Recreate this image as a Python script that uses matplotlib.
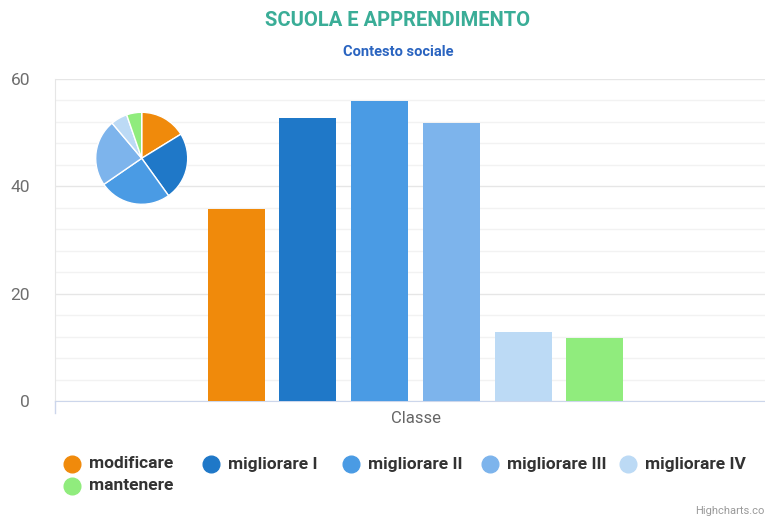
"""Scuola e apprendimento - contesto sociale (column chart with inset pie)."""

import matplotlib
matplotlib.use("Agg")
import matplotlib.pyplot as plt
from matplotlib.lines import Line2D

# Data
categories = ["Classe"]
series_names = ["modificare", "migliorare I", "migliorare II",
                "migliorare III", "migliorare IV", "mantenere"]
series_values = [35.8, 52.7, 55.9, 51.8, 12.9, 11.7]
series_colors = ["#f08a0b", "#1f78c8", "#4a9be4", "#7db4ec", "#bcdaf5", "#90ec7d"]
y_ticks = [0, 20, 40, 60]

plt.rcParams["font.family"] = ["Roboto", "DejaVu Sans"]

W, H = 765, 518
fig = plt.figure(figsize=(W / 100, H / 100), dpi=100)


def px_axes(left, top, right, bottom):
    """Add axes from pixel coordinates (origin top-left)."""
    return fig.add_axes([left / W, 1 - bottom / H, (right - left) / W, (bottom - top) / H])


# Main column chart
ax = px_axes(55, 79, 765, 401)
n = len(series_values)
bar_w = 0.079
step = 0.0995
offsets = [(i - (n - 1) / 2) * step for i in range(n)]
for off, val, col in zip(offsets, series_values, series_colors):
    ax.bar(off, val, width=bar_w, color=col, zorder=3)

ax.set_xlim(-0.5, 0.4847)
ax.set_ylim(0, 60)
ax.set_yticks(y_ticks)
ax.set_yticks([v for v in range(0, 61, 4) if v % 20], minor=True)
ax.grid(axis="y", which="major", color="#e6e6e6", linewidth=1, zorder=0)
ax.grid(axis="y", which="minor", color="#f2f2f2", linewidth=1, zorder=0)
ax.tick_params(axis="y", which="both", length=0, labelsize=12.5, labelcolor="#6e6e6e", pad=18)
ax.tick_params(axis="x", length=0)
ax.set_xticks([0])
ax.set_xticklabels(categories, fontsize=12, color="#666666")
ax.tick_params(axis="x", pad=7)
for s in ["top", "right"]:
    ax.spines[s].set_visible(False)
ax.spines["left"].set_color("#e6e6e6")
ax.spines["bottom"].set_color("#ccd6eb")
# tick mark at category boundary below the baseline
ax.plot([-0.5, -0.5], [0, -2.2], color="#ccd6eb", linewidth=1, clip_on=False)

# Inset pie
pax = px_axes(95.7, 112.3, 187.7, 204.3)
pax.pie(series_values, colors=series_colors, startangle=90, counterclock=False,
        wedgeprops=dict(edgecolor="white", linewidth=1))
pax.set_xlim(-1, 1)
pax.set_ylim(-1, 1)
pax.set_aspect("equal")

# Titles
fig.text(398 / W, 1 - 21 / H, "SCUOLA E APPRENDIMENTO", ha="center", va="center",
         fontsize=14.5, fontweight="bold", color="#3aad97")
fig.text(398 / W, 1 - 52 / H, "Contesto sociale", ha="center", va="center",
         fontsize=10.5, fontweight="bold", color="#2a64c0")

# Legend
legend_x = [72, 211, 351, 490, 628, 72]
legend_y = [464, 464, 464, 464, 464, 486]
for name, col, lx, ly in zip(series_names, series_colors, legend_x, legend_y):
    fig.add_artist(Line2D([lx / W], [1 - ly / H], marker="o", markersize=12,
                          color=col, linestyle="none", transform=fig.transFigure))
    fig.text((lx + 17) / W, 1 - ly / H, name, ha="left", va="center",
             fontsize=12.5, fontweight="bold", color="#333333")

fig.text(764 / W, 1 - 511 / H, "Highcharts.co", ha="right", va="center",
         fontsize=8, color="#999999")

fig.savefig("out.png", dpi=100)
